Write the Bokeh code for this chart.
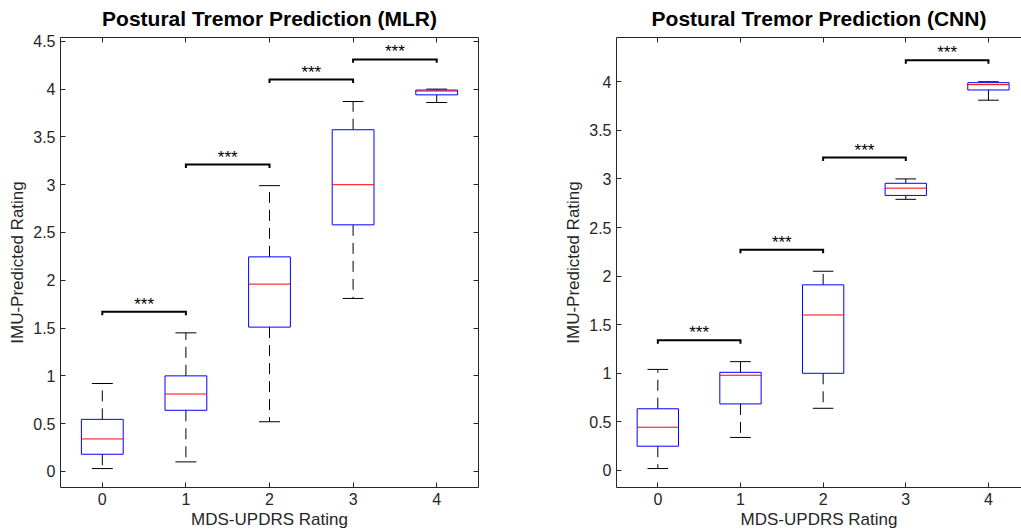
import numpy as np
from bokeh.plotting import figure
from bokeh.layouts import row
from bokeh.models import (ColumnDataSource, LinearAxis, Range1d, FixedTicker,
                          CustomLabelingPolicy)
from bokeh.core.properties import value
from bokeh.embed import file_html
from bokeh.resources import INLINE

# ---------------- data ----------------
ratings = [0, 1, 2, 3, 4]
x_tick_labels = ["0", "1", "2", "3", "4"]

mlr_low = [0.03, 0.10, 0.52, 1.81, 3.86]
mlr_q1 = [0.18, 0.64, 1.51, 2.58, 3.94]
mlr_med = [0.34, 0.81, 1.96, 3.00, 3.98]
mlr_q3 = [0.545, 1.00, 2.245, 3.575, 3.99]
mlr_high = [0.92, 1.45, 2.99, 3.87, 4.00]

cnn_low = [0.02, 0.34, 0.64, 2.79, 3.81]
cnn_q1 = [0.25, 0.685, 1.00, 2.83, 3.915]
cnn_med = [0.445, 0.98, 1.60, 2.905, 3.97]
cnn_q3 = [0.635, 1.01, 1.91, 2.955, 3.99]
cnn_high = [1.04, 1.12, 2.05, 3.00, 4.00]

sig_left = [0, 1, 2, 3]
sig_right = [1, 2, 3, 4]
mlr_sig_y = [1.67, 3.21, 4.10, 4.31]
cnn_sig_y = [1.34, 2.27, 3.22, 4.22]
sig_label = "***"

mlr_yticks = [0, 0.5, 1, 1.5, 2, 2.5, 3, 3.5, 4, 4.5]
mlr_ytick_labels = ["0", "0.5", "1", "1.5", "2", "2.5", "3", "3.5", "4", "4.5"]
cnn_yticks = [0, 0.5, 1, 1.5, 2, 2.5, 3, 3.5, 4]
cnn_ytick_labels = ["0", "0.5", "1", "1.5", "2", "2.5", "3", "3.5", "4"]

# ---------------- style ----------------
FONT = "Liberation Sans"
AX_COLOR = "#262626"
BOX_W = 0.5
CAP_W = 0.25
TIP = 0.035

NO_LABELS = CustomLabelingPolicy(
    code="const ids = [...indices]; for (const i of ids) indices.unset(i); return indices")


def style_axis(ax, ticks, labels, show_labels=True):
    ax.ticker = FixedTicker(ticks=list(ticks))
    ax.major_label_overrides = {t: l for t, l in zip(ticks, labels)}
    ax.major_tick_in = 5
    ax.major_tick_out = 0
    ax.minor_tick_line_color = None
    ax.axis_line_color = AX_COLOR
    ax.major_tick_line_color = AX_COLOR
    ax.major_label_text_color = AX_COLOR
    ax.major_label_text_font = FONT
    if show_labels:
        ax.major_label_text_font_size = "16px"
        ax.major_label_standoff = 5
    else:
        ax.major_label_text_font_size = "1px"
        ax.major_label_standoff = 0
        ax.major_label_policy = NO_LABELS
    ax.axis_label_text_font = FONT
    ax.axis_label_text_font_size = "17px"
    ax.axis_label_text_font_style = "normal"
    ax.axis_label_text_color = AX_COLOR
    ax.axis_label_standoff = 3


def make_panel(title, low, q1, med, q3, high, sig_y, yr, yticks, ylabels,
               x_end, width, mb_left, mb_right, right_axis):
    p = figure(width=width, height=531, x_range=Range1d(-0.5, x_end),
               y_range=Range1d(*yr), output_backend="svg", toolbar_location=None,
               min_border_left=mb_left, min_border_right=mb_right,
               min_border_top=37, min_border_bottom=44,
               outline_line_color=None, title=title)
    p.grid.visible = False
    p.title.text_font = FONT
    p.title.text_font_size = "21px"
    p.title.text_font_style = "bold"
    p.title.text_color = "black"
    p.title.align = "center"
    p.title.standoff = 7

    xb = p.below[0]
    yl = p.left[0]
    style_axis(xb, ratings, x_tick_labels)
    style_axis(yl, yticks, ylabels)
    xb.axis_label = "MDS-UPDRS Rating"
    yl.axis_label = "IMU-Predicted Rating"
    xb.axis_label_standoff = 2

    top = LinearAxis()
    style_axis(top, ratings, x_tick_labels, show_labels=False)
    p.add_layout(top, "above")
    if right_axis:
        rt = LinearAxis()
        style_axis(rt, yticks, ylabels, show_labels=False)
        p.add_layout(rt, "right")

    x = np.array(ratings, dtype=float)
    src = ColumnDataSource(dict(
        x=x, low=low, q1=q1, med=med, q3=q3, high=high,
        xl=x - BOX_W / 2, xr=x + BOX_W / 2,
        cl=x - CAP_W / 2, cr=x + CAP_W / 2,
    ))
    # whiskers (dashed)
    p.segment(x0="x", x1="x", y0="q3", y1="high", source=src,
              line_color="black", line_width=1, line_dash="11 7")
    p.segment(x0="x", x1="x", y0="q1", y1="low", source=src,
              line_color="black", line_width=1, line_dash="11 7")
    # caps
    p.segment(x0="cl", x1="cr", y0="high", y1="high", source=src,
              line_color="black", line_width=1)
    p.segment(x0="cl", x1="cr", y0="low", y1="low", source=src,
              line_color="black", line_width=1)
    # boxes
    p.vbar(x="x", width=BOX_W, bottom="q1", top="q3", source=src,
           fill_color=None, line_color="#0000ff", line_width=1)
    # medians
    p.segment(x0="xl", x1="xr", y0="med", y1="med", source=src,
              line_color="#ff0000", line_width=1)

    # significance brackets
    sl = np.array(sig_left, dtype=float)
    sr = np.array(sig_right, dtype=float)
    sy = np.array(sig_y, dtype=float)
    xs = [[a, a, b, b] for a, b in zip(sl, sr)]
    ys = [[y - TIP, y, y, y - TIP] for y in sy]
    p.multi_line(xs=xs, ys=ys, line_color="black", line_width=2,
                 line_join="miter")
    p.text(x=(sl + sr) / 2, y=sy, text=[sig_label] * len(sy),
           text_align="center", text_baseline="bottom", y_offset=2,
           text_font=value(FONT), text_font_size="17px", text_color="black")
    return p


p1 = make_panel("Postural Tremor Prediction (MLR)", mlr_low, mlr_q1, mlr_med,
                mlr_q3, mlr_high, mlr_sig_y, (-0.168, 4.54), mlr_yticks,
                mlr_ytick_labels, 4.5, 520, 60, 42, True)
p2 = make_panel("Postural Tremor Prediction (CNN)", cnn_low, cnn_q1, cnn_med,
                cnn_q3, cnn_high, cnn_sig_y, (-0.175, 4.455), cnn_yticks,
                cnn_ytick_labels, 4.4, 501, 96, 0, False)

layout = row(p1, p2)
open("out.html", "w").write(file_html(layout, INLINE))
